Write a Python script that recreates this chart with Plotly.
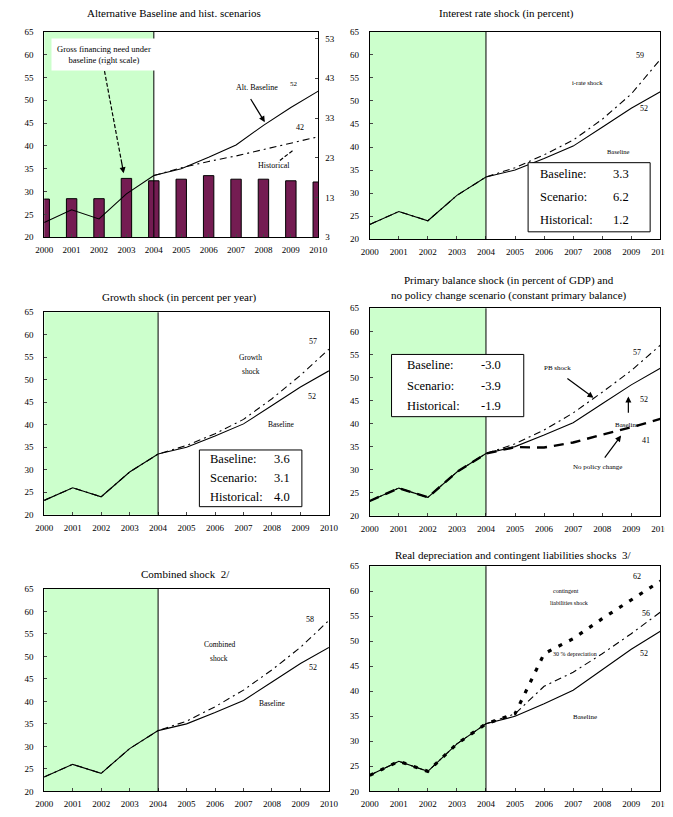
import plotly.graph_objects as go

# ---------------- data ----------------
years = list(range(2000, 2011))
year_labels = [str(y) for y in years]
left_ticks = [20, 25, 30, 35, 40, 45, 50, 55, 60, 65]
right_ticks = [3, 13, 23, 33, 43, 53]

baseline = [23.2, 26.0, 24.0, 29.5, 33.5, 35.0, 37.5, 40.2, 44.3, 48.4, 52.0]
alt_baseline = [23.2, 26.0, 24.0, 29.5, 33.5, 35.0, 37.5, 40.2, 44.5, 48.4, 52.0]
historical = [None, None, None, None, 33.5, 35.2, 36.6, 37.8, 39.2, 40.6, 42.0]
gross_financing = [12.6, 12.7, 12.7, 17.8, 17.2, 17.6, 18.5, 17.6, 17.6, 17.2, 16.9]

irate_shock = [23.2, 26.0, 24.0, 29.5, 33.5, 35.5, 38.3, 41.5, 46.0, 51.5, 59.0]
growth_shock = [23.2, 26.0, 24.0, 29.5, 33.5, 35.4, 38.0, 41.2, 45.8, 51.0, 56.8]
pb_shock = [23.2, 26.0, 24.0, 29.5, 33.5, 35.6, 38.6, 42.3, 46.8, 51.5, 57.0]
no_policy = [23.2, 26.0, 24.0, 29.5, 33.5, 34.9, 34.8, 35.9, 37.6, 39.2, 41.0]
combined_shock = [23.2, 26.0, 24.0, 29.5, 33.5, 35.6, 38.8, 42.5, 47.0, 52.0, 58.0]
depreciation_30 = [23.2, 26.0, 24.0, 29.5, 33.5, 35.5, 41.0, 43.8, 47.5, 51.5, 55.8]
contingent = [23.2, 26.0, 24.0, 29.5, 33.5, 35.5, 47.5, 50.5, 54.5, 58.2, 62.0]

box_irate = [("Baseline:", "3.3"), ("Scenario:", "6.2"), ("Historical:", "1.2")]
box_growth = [("Baseline:", "3.6"), ("Scenario:", "3.1"), ("Historical:", "4.0")]
box_pb = [("Baseline:", "-3.0"), ("Scenario:", "-3.9"), ("Historical:", "-1.9")]

# ---------------- layout helpers ----------------
W, H = 673, 817
OFF = 8  # page body margin compensation
FONT = "Liberation Serif"
GREEN = "#ccffcc"

# pixel boxes of plot areas in the target picture: (left, right, top, bottom)
panels = [
    (36, 318, 27, 235),
    (371, 670, 27, 237),
    (36, 329, 311, 516),
    (371, 670, 307, 517),
    (36, 329, 591, 796),
    (371, 670, 568, 796),
]


def px_x(p):
    return (p - OFF) / W


def px_y(p):
    return 1 - (p - OFF) / H


def xn(i):
    return "x" if i == 1 else f"x{i}"


def yn(i):
    return "y" if i == 1 else f"y{i}"


fig = go.Figure()
layout = dict(
    width=W, height=H,
    margin=dict(l=0, r=0, t=0, b=0),
    paper_bgcolor="white", plot_bgcolor="white",
    showlegend=False,
    font=dict(family=FONT, color="black", size=9),
)

TICKFONT = dict(family=FONT, size=9, color="black")
for i, (l, r, t, b) in enumerate(panels, start=1):
    kx = "xaxis" if i == 1 else f"xaxis{i}"
    ky = "yaxis" if i == 1 else f"yaxis{i}"
    layout[kx] = dict(
        domain=[px_x(l), px_x(r)], anchor=yn(i), range=[2000, 2010],
        tickvals=years, ticktext=year_labels, ticks="inside", ticklen=3,
        showline=True, mirror=True, linecolor="black", linewidth=1,
        showgrid=False, zeroline=False, tickfont=TICKFONT,
        ticklabelstandoff=4,
    )
    layout[ky] = dict(
        domain=[px_y(b), px_y(t)], anchor=xn(i), range=[20, 65],
        tickvals=left_ticks, ticks="inside", ticklen=3,
        showline=True, mirror=True, linecolor="black", linewidth=1,
        showgrid=False, zeroline=False, tickfont=TICKFONT,
        ticklabelstandoff=8,
    )

# right axis for gross financing bars, and an overlay for lines on top
layout["yaxis7"] = dict(
    overlaying="y", side="right", anchor="x", range=[3, 54.7],
    tickvals=right_ticks, ticks="inside", ticklen=3, showline=False,
    showgrid=False, zeroline=False, tickfont=TICKFONT, ticklabelstandoff=6,
)
layout["yaxis8"] = dict(
    overlaying="y", anchor="x", range=[20, 65], visible=False,
    showgrid=False, zeroline=False,
)

shapes = []
annotations = []

for i in range(1, 7):
    shapes.append(dict(type="rect", xref=xn(i), yref=f"{yn(i)} domain",
                       x0=2000, x1=2004, y0=0, y1=1, fillcolor=GREEN,
                       line=dict(width=0), layer="below"))
    shapes.append(dict(type="line", xref=xn(i), yref=f"{yn(i)} domain",
                       x0=2004, x1=2004, y0=0, y1=1,
                       line=dict(color="black", width=1), layer="above"))

# titles
titles = [
    (170, 8, "Alternative Baseline and hist. scenarios"),
    (512, 8, "Interest rate shock (in percent)"),
    (175, 296, "Growth shock (in percent per year)"),
    (514, 279, "Primary balance shock (in percent of GDP) and"),
    (514, 294, "no policy change scenario (constant primary balance)"),
    (181, 576, "Combined shock  2/"),
    (518, 557, "Real depreciation and contingent liabilities shocks  3/"),
]
for px, py, txt in titles:
    annotations.append(dict(xref="paper", yref="paper", x=px_x(px), y=px_y(py),
                            text=txt, showarrow=False, xanchor="center",
                            yanchor="middle",
                            font=dict(family=FONT, size=11, color="black")))


def label(i, x, y, text, size=7.5, bg=None):
    d = dict(xref=xn(i), yref=yn(i), x=x, y=y, text=text, showarrow=False,
             font=dict(family=FONT, size=size, color="black"),
             xanchor="center", yanchor="middle")
    if bg:
        d["bgcolor"] = bg
        d["borderpad"] = 5
    annotations.append(d)


def arrow(i, xt, yt, xh, yh, dashed=False):
    if dashed:
        fx = xt + (xh - xt) * 0.85
        fy = yt + (yh - yt) * 0.85
        shapes.append(dict(type="line", xref=xn(i), yref=yn(i), x0=xt, y0=yt,
                           x1=fx, y1=fy, line=dict(color="black", width=1.2,
                                                   dash="4px,2px")))
        xt, yt = fx, fy
    annotations.append(dict(xref=xn(i), yref=yn(i), axref=xn(i), ayref=yn(i),
                            x=xh, y=yh, ax=xt, ay=yt, text="", showarrow=True,
                            arrowhead=2, arrowsize=1, arrowwidth=1.2,
                            arrowcolor="black"))


def stat_box(i, x0, x1, y0, y1, rows, xl, xv, size=12.5):
    shapes.append(dict(type="rect", xref=xn(i), yref=yn(i), x0=x0, x1=x1,
                       y0=y0, y1=y1, line=dict(color="black", width=1),
                       fillcolor="white", layer="above"))
    n = len(rows)
    step = (y1 - y0) / n
    for k, (lab, val) in enumerate(rows):
        yy = y1 - step * (k + 0.5)
        annotations.append(dict(xref=xn(i), yref=yn(i), x=xl, y=yy, text=lab,
                                showarrow=False, xanchor="left", yanchor="middle",
                                font=dict(family=FONT, size=size, color="black")))
        annotations.append(dict(xref=xn(i), yref=yn(i), x=xv, y=yy, text=val,
                                showarrow=False, xanchor="left", yanchor="middle",
                                font=dict(family=FONT, size=size, color="black")))


def line(i, y, dash="solid", width=1.0, yaxis=None):
    fig.add_trace(go.Scatter(x=years, y=y, mode="lines", xaxis=xn(i),
                             yaxis=yaxis or yn(i), connectgaps=False,
                             line=dict(color="black", width=width, dash=dash),
                             hoverinfo="skip"))


DASHDOT = "7px,4px,2px,4px"

# ---- panel 1 ----
fig.add_trace(go.Bar(x=years, y=gross_financing, xaxis="x", yaxis="y7",
                     width=0.38, marker=dict(color="#741c52",
                                             line=dict(color="black", width=1)),
                     hoverinfo="skip"))
line(1, alt_baseline, yaxis="y8", width=1.1)
line(1, historical, dash=DASHDOT, yaxis="y8", width=1.1)
label(1, 2002.2, 60.0, "Gross financing need under<br>baseline (right scale)",
      size=8.5, bg="white")
arrow(1, 2002.2, 56.4, 2002.9, 34.0, dashed=True)
label(1, 2007.75, 52.7, "Alt. Baseline", size=8)
label(1, 2009.1, 53.6, "52", size=7)
arrow(1, 2007.5, 50.6, 2008.05, 45.2)
label(1, 2009.35, 44.0, "42", size=8)
label(1, 2008.4, 35.8, "Historical", size=8)
arrow(1, 2008.6, 36.8, 2009.2, 39.6, dashed=True)

# ---- panel 2 ----
line(2, baseline, width=1.1)
line(2, irate_shock, dash=DASHDOT, width=1.1)
label(2, 2009.3, 59.8, "59", size=8)
label(2, 2007.5, 54.0, "i-rate shock", size=6.5)
label(2, 2009.45, 48.3, "52", size=8)
label(2, 2008.55, 39.0, "Baseline", size=6.5)
stat_box(2, 2005.45, 2009.65, 21.6, 36.6, box_irate, 2005.8, 2008.3)

# ---- panel 3 ----
line(3, baseline, width=1.1)
line(3, growth_shock, dash=DASHDOT, width=1.1)
label(3, 2009.45, 58.6, "57", size=8)
label(3, 2007.25, 55.0, "Growth", size=7.5)
label(3, 2007.25, 51.8, "shock", size=7.5)
label(3, 2009.4, 46.3, "52", size=8)
label(3, 2008.3, 40.0, "Baseline", size=7.5)
stat_box(3, 2005.45, 2009.05, 21.8, 34.4, box_growth, 2005.75, 2008.0)

# ---- panel 4 ----
line(4, baseline, width=1.1)
line(4, pb_shock, dash=DASHDOT, width=1.1)
line(4, no_policy, dash="10px,7px", width=2.4)
label(4, 2009.2, 55.5, "57", size=8)
label(4, 2006.45, 52.0, "PB shock", size=7)
arrow(4, 2006.75, 50.0, 2007.7, 45.6)
label(4, 2009.45, 45.3, "52", size=8)
arrow(4, 2008.9, 42.0, 2008.9, 45.9)
label(4, 2008.85, 39.8, "Baseline", size=7)
label(4, 2009.5, 36.3, "41", size=8)
arrow(4, 2008.05, 32.3, 2008.65, 37.4)
label(4, 2007.85, 30.5, "No policy change", size=7)
stat_box(4, 2000.75, 2005.3, 41.5, 55.0, box_pb, 2001.2, 2003.75)

# ---- panel 5 ----
line(5, baseline, width=1.1)
line(5, combined_shock, dash=DASHDOT, width=1.1)
label(5, 2009.35, 58.2, "58", size=8)
label(5, 2006.15, 52.6, "Combined", size=7.5)
label(5, 2006.15, 49.5, "shock", size=7.5)
label(5, 2009.45, 47.5, "52", size=8)
label(5, 2008.0, 39.6, "Baseline", size=7.5)

# ---- panel 6 ----
line(6, baseline, width=1.1)
line(6, depreciation_30, dash=DASHDOT, width=1.1)
line(6, contingent, dash="4px,8px", width=3.2)
label(6, 2009.2, 63.0, "62", size=8)
label(6, 2006.75, 60.0, "contingent", size=6)
label(6, 2006.85, 57.6, "liabilities shock", size=6)
label(6, 2009.5, 55.6, "56", size=8)
label(6, 2007.05, 47.5, "30 % depreciation", size=6)
label(6, 2009.45, 47.5, "52", size=8)
label(6, 2007.4, 34.8, "Baseline", size=7)

layout["shapes"] = shapes
layout["annotations"] = annotations
fig.update_layout(**layout)
fig.write_html("out.html")
